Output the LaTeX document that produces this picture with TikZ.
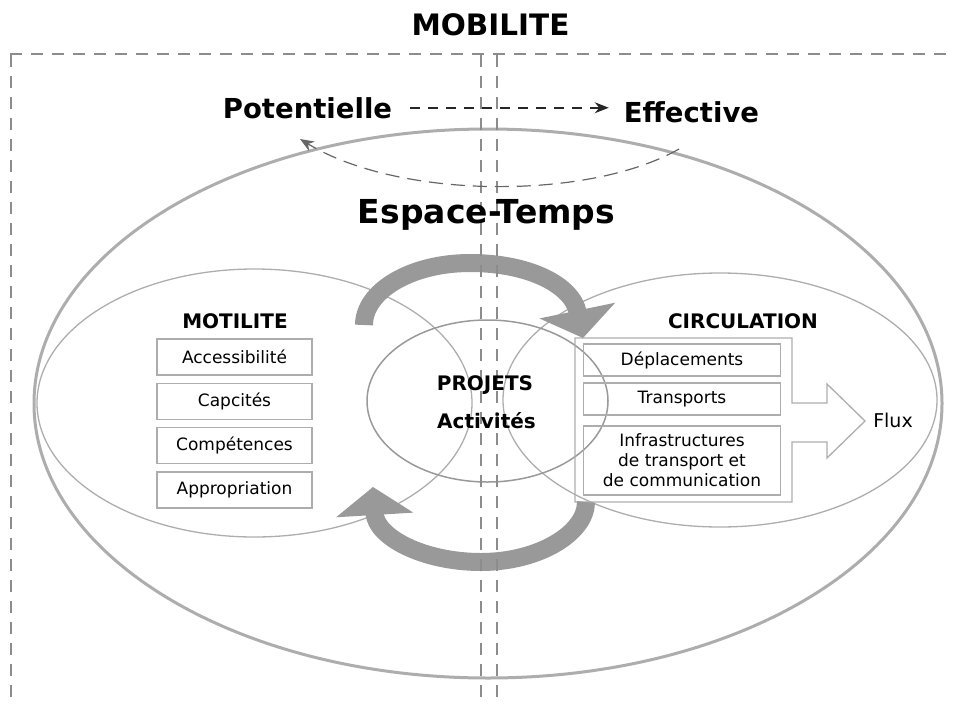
\documentclass[tikz,border=0pt]{standalone}
\usepackage{fontspec}
\setmainfont{DejaVu Sans}
\usetikzlibrary{arrows.meta,shapes}
\definecolor{grisfort}{gray}{0.15}
\definecolor{griscourbe}{gray}{0.4}
\definecolor{grisfleche}{gray}{0.6}
\definecolor{grisbord}{gray}{0.68}
\definecolor{grispoint}{gray}{0.55}
\tikzset{
  texte/.style = {inner sep=0pt, align=center,
    font=\fontsize{17}{20}\selectfont},
  titre/.style = {texte, font=\fontsize{29.5}{31}\selectfont\bfseries},% titre du haut
  pole/.style = {texte, font=\fontsize{27.5}{29}\selectfont\bfseries},% potentielle, effective
  espace/.style = {texte, font=\fontsize{33}{35}\selectfont\bfseries},% espace-temps
  rubrique/.style = {texte, font=\fontsize{20}{23}\selectfont\bfseries},% motilite, circulation, projets
  boite/.style = {texte, rectangle, draw=grisbord, line width=1.3pt},% case de liste
  boite_g/.style = {boite, minimum width=155pt, minimum height=36pt},% colonne gauche
  boite_d/.style = {boite, minimum width=197pt, minimum height=32pt},% colonne droite
  bulle/.style = {draw=grisbord, line width=1.3pt},% ellipses fines
  tour/.style = {draw=grisfleche, line width=18pt,
    -{Triangle[width=76pt,length=28pt]}},% grosses fleches grises
  repere/.style = {draw=grispoint, line width=1.4pt,
    dash pattern=on 12pt off 9pt}% lignes de separation
}

\begin{document}
\begin{tikzpicture}[x=1pt, y=-1pt, >={Stealth[length=14pt,width=11pt]}]
\useasboundingbox (0,0) rectangle (955,707);

% ellipses
\draw[draw=grisbord, line width=3pt] (488,403.5) ellipse [x radius=454, y radius=274.5];
\draw[bulle] (254.5,403) ellipse [x radius=217.5, y radius=134];
\draw[bulle] (720,400) ellipse [x radius=217, y radius=127];
\draw[bulle, draw=gray!80, line width=1.5pt] (487.5,401) ellipse [x radius=120.5, y radius=81];

% cadre en fleche vers les flux
\draw[draw=grisbord, line width=1.3pt] (575,338) -- (792,338) -- (792,403) -- (827,403)
  -- (827,384) -- (865,421) -- (827,458) -- (827,442) -- (792,442) -- (792,502)
  -- (575,502) -- cycle;

% fleches du cycle
\draw[tour] (364,325) .. controls (364,291) and (411,263) .. (470,263)
  .. controls (529,263) and (572,285) .. (583,338);
\draw[tour] (586,502) .. controls (586,533) and (539,562) .. (481,562)
  .. controls (423,562) and (376,537) .. (373,487);

% lignes pointillees
\draw[repere] (10,54) -- (955,54);
\foreach \x in {11,481,497}
  \draw[repere] (\x,55) -- (\x,705);

% titres
\node[titre, anchor=base] (mobilite) at (490.5,35) {MOBILITE};
\node[pole, anchor=base] (pot) at (307.5,118) {Potentielle};
\node[pole, anchor=base] (eff) at (691.5,122) {Effective};
\draw[->, draw=grisfort, line width=1.5pt, dash pattern=on 10pt off 8pt,
  shorten <=18pt, shorten >=15pt] (pot.east) -- (pot.east -| eff.west);
\coordinate (arc_d) at (679,149);
\coordinate (arc_g) at (300,139);
\draw[->, draw=griscourbe, line width=1.2pt, dash pattern=on 14pt off 8pt]
  (arc_d) .. controls (590,200) and (400,200) .. (arc_g);
\node[espace, anchor=base] (espace) at (486.5,223) {Espace-Temps};

% motilite
\node[rubrique, anchor=base] (motilite) at (235,328) {MOTILITE};
\node[boite_g] (acces) at (234.5,357) {Accessibilité};
\node[boite_g] (capa) at (234.5,401.5) {Capcités};
\node[boite_g] (compe) at (234.5,445.5) {Compétences};
\node[boite_g] (appro) at (234.5,490) {Appropriation};

% projets
\node[rubrique, anchor=base] (projets) at (485,390) {PROJETS};
\node[rubrique, anchor=base] (activ) at (486.5,428) {Activités};

% circulation
\node[rubrique, anchor=base] (circ) at (743,328) {CIRCULATION};
\node[boite_d] (depla) at (682,360) {Déplacements};
\node[boite_d] (trans) at (682,399) {Transports};
\node[boite_d, minimum height=69pt] (infra) at (682,460.5)
  {Infrastructures\\de transport et\\de communication};
\node[texte, font=\fontsize{19}{22}\selectfont, anchor=base] (flux) at (893,427) {Flux};
\end{tikzpicture}
\end{document}
